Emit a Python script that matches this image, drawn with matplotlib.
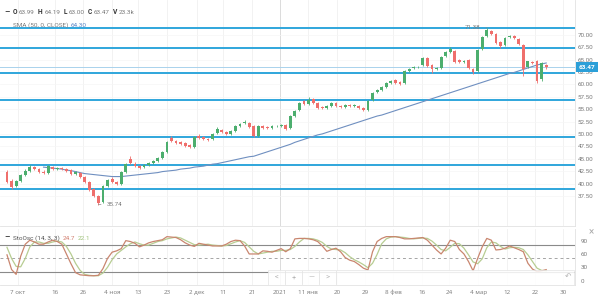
import matplotlib
matplotlib.use("Agg")
import matplotlib.pyplot as plt
from matplotlib.patches import Rectangle
import numpy as np

plt.rcParams['font.family'] = ['Roboto', 'DejaVu Sans']

# daily candles, trading-day index 0..118
opens = [42.4, 40.6, 39.5, 40.5, 41.8, 42.6, 43.3, 42.9, 42.4, 42.2,
         43.3, 42.9, 43.2, 43.0, 42.8, 42.0, 42.2, 41.3, 40.3, 38.8,
         37.4, 36.3, 39.4, 40.9, 40.4, 39.9, 42.3, 45.0, 44.0, 43.5,
         43.3, 43.7, 44.2, 44.6, 45.2, 46.4, 49.1, 48.6, 48.3, 48.2,
         47.8, 47.4, 49.5, 49.3, 49.0, 48.9, 50.1, 50.7, 50.4, 49.9,
         50.6, 51.5, 52.1, 52.3, 51.5, 49.6, 51.6, 51.3, 51.2, 51.5,
         51.6, 51.8, 51.1, 53.6, 54.8, 56.6, 56.1, 57.0, 56.3, 55.4,
         55.3, 55.6, 56.2, 55.7, 55.5, 55.8, 55.6, 55.7, 55.3, 54.9,
         56.8, 58.4, 58.9, 59.5, 60.2, 60.8, 60.4, 60.3, 62.7, 63.2,
         63.4, 63.9, 65.3, 63.8, 63.0, 63.3, 65.7, 66.6, 66.8, 64.9,
         64.5, 64.9, 63.1, 62.6, 67.2, 69.8, 70.7, 70.2, 68.6, 67.9,
         69.5, 69.8, 69.2, 68.0, 63.5, 64.5, 64.6, 61.0, 63.99]
highs = [42.8, 40.9, 40.8, 42.0, 42.9, 43.7, 43.6, 43.1, 42.7, 43.8,
         43.5, 43.4, 43.4, 43.2, 42.9, 42.5, 42.4, 41.5, 40.5, 39.0,
         37.6, 39.6, 41.0, 41.4, 40.6, 42.5, 44.2, 45.6, 44.3, 43.7,
         43.9, 44.4, 44.8, 45.4, 46.5, 48.6, 49.6, 48.8, 48.5, 48.4,
         48.0, 49.5, 49.9, 49.5, 49.2, 50.2, 51.3, 50.9, 50.6, 50.8,
         51.7, 52.2, 52.9, 52.5, 51.7, 51.7, 51.8, 51.5, 51.7, 51.8,
         52.0, 52.0, 53.8, 54.8, 56.4, 56.8, 57.5, 57.2, 56.5, 55.6,
         55.8, 56.5, 56.4, 55.9, 56.0, 56.0, 56.0, 55.9, 55.5, 56.8,
         58.5, 59.1, 59.7, 60.4, 60.8, 61.0, 60.6, 62.8, 63.3, 63.6,
         63.7, 65.6, 65.5, 64.0, 63.5, 65.8, 66.7, 67.6, 67.0, 65.1,
         65.0, 65.1, 63.3, 67.2, 69.8, 71.38, 70.9, 70.4, 68.8, 69.6,
         70.0, 70.0, 69.4, 68.2, 64.8, 64.8, 64.9, 64.5, 64.19]
lows = [40.2, 38.9, 39.3, 40.3, 41.6, 42.4, 42.7, 42.1, 42.0, 42.0,
        42.8, 42.7, 42.7, 42.4, 41.7, 41.8, 41.1, 40.2, 38.4, 37.3,
        35.74, 36.1, 39.2, 40.1, 39.6, 39.7, 42.1, 43.9, 43.3, 43.0,
        43.1, 43.5, 44.0, 44.4, 45.0, 46.2, 48.4, 48.0, 47.8, 47.4,
        47.1, 47.2, 49.0, 48.7, 48.6, 48.7, 49.9, 50.1, 49.7, 49.7,
        50.4, 51.3, 51.9, 51.2, 49.3, 49.4, 50.9, 51.0, 51.0, 51.3,
        51.4, 50.8, 50.9, 53.4, 54.6, 55.8, 55.9, 56.0, 55.0, 55.0,
        55.1, 55.4, 55.4, 55.3, 55.3, 55.4, 55.4, 55.1, 54.7, 54.7,
        56.6, 58.2, 58.7, 59.3, 60.0, 60.1, 59.8, 60.1, 62.5, 63.0,
        63.2, 63.7, 63.5, 62.3, 62.8, 63.1, 65.5, 66.4, 64.2, 64.3,
        64.3, 63.1, 62.1, 62.4, 67.0, 69.6, 69.9, 68.2, 67.3, 67.7,
        69.3, 69.1, 68.0, 61.6, 63.3, 64.0, 60.3, 60.6, 63.00]
closes = [40.4, 39.3, 40.5, 41.8, 42.6, 43.4, 42.9, 42.3, 42.2, 43.5,
          43.0, 43.2, 42.9, 42.6, 41.9, 42.3, 41.3, 40.4, 38.7, 37.5,
          36.0, 39.4, 40.8, 40.3, 39.8, 42.3, 43.9, 44.1, 43.5, 43.2,
          43.7, 44.2, 44.6, 45.2, 46.3, 48.4, 48.6, 48.2, 48.0, 47.6,
          47.3, 49.3, 49.2, 48.9, 48.8, 50.0, 51.0, 50.3, 49.9, 50.6,
          51.5, 52.0, 52.5, 51.4, 49.6, 51.5, 51.1, 51.2, 51.5, 51.6,
          51.7, 51.0, 53.6, 54.6, 56.2, 56.0, 56.9, 56.2, 55.2, 55.2,
          55.6, 56.3, 55.6, 55.5, 55.8, 55.6, 55.8, 55.3, 54.9, 56.6,
          58.3, 58.9, 59.5, 60.2, 60.6, 60.3, 60.0, 62.6, 63.1, 63.4,
          63.5, 65.3, 63.7, 63.0, 63.3, 65.6, 66.5, 67.2, 64.4, 64.5,
          64.8, 63.3, 62.4, 67.0, 69.6, 71.0, 70.1, 68.4, 67.8, 69.4,
          69.8, 69.3, 68.2, 63.0, 64.6, 64.2, 60.7, 64.3, 63.47]

# SMA(50) from index 8
sma_start = 8
sma = [43.3, 43.2, 43.1, 43.0, 42.9, 42.7, 42.6, 42.4, 42.2, 42.0,
       41.9, 41.8, 41.7, 41.6, 41.5, 41.4, 41.4, 41.4, 41.5, 41.6,
       41.7, 41.8, 41.9, 42.0, 42.1, 42.2, 42.4, 42.5, 42.6, 42.7,
       42.9, 43.0, 43.1, 43.3, 43.4, 43.5, 43.7, 43.9, 44.0, 44.2,
       44.4, 44.6, 44.8, 45.0, 45.2, 45.4, 45.5, 45.8, 46.1, 46.4,
       46.7, 47.0, 47.3, 47.6, 47.9, 48.3, 48.6, 48.9, 49.2, 49.5,
       49.8, 50.0, 50.3, 50.6, 50.9, 51.2, 51.5, 51.8, 52.1, 52.4,
       52.7, 53.0, 53.3, 53.6, 53.8, 54.1, 54.4, 54.7, 55.0, 55.3,
       55.6, 55.9, 56.2, 56.5, 56.8, 57.1, 57.4, 57.7, 58.0, 58.3,
       58.6, 58.9, 59.2, 59.5, 59.8, 60.1, 60.4, 60.7, 61.0, 61.3,
       61.6, 61.9, 62.2, 62.4, 62.7, 63.0, 63.3, 63.6, 63.9, 64.1,
       64.3]

# Stochastic (14,3,3)
stoch_k = [58, 25, 14, 55, 82, 91, 87, 82, 82, 87,
           91, 88, 82, 60, 38, 18, 13, 12, 11, 11,
           12, 27, 50, 64, 67, 72, 90, 88, 84, 76,
           80, 85, 88, 90, 92, 99, 98, 97, 92, 85,
           80, 77, 84, 82, 80, 78, 78, 78, 82, 88,
           91, 90, 78, 60, 60, 60, 67, 66, 64, 68,
           72, 65, 72, 94, 95, 95, 94, 92, 88, 78,
           66, 70, 73, 65, 52, 46, 43, 36, 28, 24,
           65, 88, 95, 99, 99, 99, 97, 94, 94, 95,
           96, 97, 91, 80, 69, 60, 73, 91, 88, 70,
           60, 43, 22, 50, 76, 95, 91, 69, 70, 73,
           78, 74, 70, 65, 39, 26, 20, 22, 24.7]
stoch_d = [75, 50, 32, 31, 50, 76, 87, 87, 84, 84,
           87, 89, 87, 77, 60, 39, 23, 14, 12, 11,
           11, 17, 30, 47, 60, 68, 76, 83, 87, 83,
           80, 80, 84, 88, 90, 94, 96, 98, 96, 91,
           86, 81, 80, 81, 82, 80, 79, 78, 79, 83,
           87, 90, 86, 76, 66, 60, 62, 64, 66, 66,
           68, 68, 70, 77, 87, 95, 95, 94, 91, 86,
           77, 71, 70, 69, 63, 54, 47, 42, 36, 29,
           39, 59, 83, 94, 98, 99, 98, 97, 95, 94,
           95, 96, 95, 89, 80, 70, 67, 75, 84, 83,
           73, 58, 42, 38, 49, 74, 87, 85, 77, 71,
           74, 75, 74, 70, 58, 43, 28, 23, 22.1]

levels = [71.27, 67.37, 62.22, 56.77, 49.3, 43.64, 38.9]
last_price = 63.47

price_ticks = [37.5, 40.0, 42.5, 45.0, 47.5, 50.0, 52.5, 55.0, 57.5, 60.0, 62.5, 65.0, 67.5, 70.0]
osc_ticks = [0, 30, 60, 90]
date_pos = [2.4, 10.5, 16.6, 23, 28.7, 35, 41.6, 47.3, 53.6, 59.7,
            65.9, 72.2, 78.3, 84.5, 90.8, 96.7, 103.1, 109.4, 115.5, 121.7]
date_labels = ['7 окт', '16', '26', '4 ноя', '13', '23', '2 дек', '11', '21', '2021',
               '11 янв', '20', '29', '8 фев', '16', '24', '4 мар', '12', '22', '30']

UP = '#4cae6e'
DOWN = '#ef6f6c'
LINE_BLUE = '#2fa6dc'
GRID = '#f0f0f0'
TXT = '#7a7a7a'

o = np.array(opens); h = np.array(highs); l = np.array(lows); c = np.array(closes)
x = np.arange(len(o))
cols = np.where(c >= o, UP, DOWN)

fig = plt.figure(figsize=(6, 3.03), dpi=100)
ax = fig.add_axes([0, 0.2541, 0.9583, 0.7459])
ax2 = fig.add_axes([0, 0.0594, 0.9583, 0.1848], sharex=ax)

for a in (ax, ax2):
    for p in date_pos:
        a.axvline(p, color=GRID, lw=0.6, zorder=0)
    a.axvline(date_pos[9], color='#dcdcdc', lw=0.7, zorder=0)
    for s in ['top', 'left']:
        a.spines[s].set_visible(False)
    for s in ['right', 'bottom']:
        a.spines[s].set_color('#e2e2e2')
        a.spines[s].set_linewidth(0.6)

for p in price_ticks:
    ax.axhline(p, color='#f5f5f5', lw=0.5, zorder=0)

# support / resistance levels
for lv in levels:
    ax.axhline(lv, color=LINE_BLUE, lw=1.4, zorder=1)
ax.axhline(last_price, color='#a9d2ec', lw=0.7, zorder=1)

# candles
ax.vlines(x, l, h, colors=cols, lw=0.6, zorder=3)
ax.bar(x, np.maximum(np.abs(c - o), 0.06), bottom=np.minimum(o, c), width=0.62,
       color=cols, zorder=4)

# SMA
ax.plot(np.arange(sma_start, sma_start + len(sma)), sma, color='#6f8fc0', lw=0.8, zorder=2)

ax.annotate('71.38', xy=(105, 71.38), xytext=(103.6, 71.38), ha='right', va='center',
            fontsize=4.5, color=TXT,
            arrowprops=dict(arrowstyle='-', color='#888888', lw=0.5))
ax.annotate('35.74', xy=(20, 35.74), xytext=(21.8, 35.74), ha='left', va='center',
            fontsize=4.5, color=TXT,
            arrowprops=dict(arrowstyle='-', color='#888888', lw=0.5))

ax.set_xlim(-1.53, 124.3)
ax.set_ylim(31.43, 77.0)
ax.yaxis.tick_right()
ax.set_yticks(price_ticks)
ax.set_yticklabels([f'{p:.2f}' for p in price_ticks])
ax.tick_params(axis='y', length=0, pad=2, labelsize=4.5, colors=TXT)
ax.tick_params(axis='x', length=0, labelbottom=False)

# stochastic panel
ax2.axhline(80, color='#8a8a8a', lw=0.8, zorder=1)
ax2.axhline(20, color='#8a8a8a', lw=0.8, zorder=1)
ax2.axhline(50, color='#a5a5a5', lw=0.7, ls=(0, (3, 3)), zorder=1)
ax2.plot(x, stoch_d, color='#b7cd92', lw=0.9, zorder=2)
ax2.plot(x, stoch_k, color='#c9866f', lw=0.9, zorder=3)
ax2.set_ylim(-9.9, 116.2)
ax2.yaxis.tick_right()
ax2.set_yticks(osc_ticks)
ax2.tick_params(axis='y', length=0, pad=4, labelsize=4.5, colors=TXT)
ax2.set_xticks(date_pos)
ax2.set_xticklabels(date_labels, family=['Open Sans', 'DejaVu Sans'])
ax2.tick_params(axis='x', length=0, pad=6.3, labelsize=4.5, colors=TXT)
for lbl in ax2.get_xticklabels():
    lbl.set_verticalalignment('baseline')

W, H = 600.0, 303.0
renderer = fig.canvas.get_renderer()

def row(px, py, pieces):
    # lay out text pieces one after another
    cur = px
    for s, kw, gap in pieces:
        t = fig.text(cur / W, 1 - py / H, s, va='baseline', ha='left', **kw)
        bb = t.get_window_extent(renderer=renderer)
        cur += bb.width + gap

B = dict(fontsize=4.8, color='#333333', fontweight='bold')
N = dict(fontsize=4.6, color=TXT)
row(4, 14, [('–', dict(fontsize=6, color='#333333', fontweight='bold'), 4)])
row(13, 14, [('O', B, 1.6), ('63.99', N, 3.2), ('H', B, 1.6), ('64.19', N, 3.2),
             ('L', B, 1.6), ('63.00', N, 3.2), ('C', B, 1.6), ('63.47', N, 3.2),
             ('V', B, 1.6), ('23.3k', N, 0)])
row(13, 27, [('SMA (50, 0, CLOSE)', N, 2.5), ('64.30', dict(fontsize=4.6, color='#5b86c6'), 0)])

row(4, 239.5, [('–', dict(fontsize=6, color='#333333', fontweight='bold'), 0)])
row(13, 239.5, [('StoOsc (14, 3, 3)', dict(fontsize=4.6, color='#555555'), 2.5),
                ('24.7', dict(fontsize=4.6, color='#d27f6f'), 2.5),
                ('22.1', dict(fontsize=4.6, color='#9fc27a'), 0)])

# last price tag
fig.text(587 / W, 1 - 67.1 / H, '63.47', ha='center', va='center', fontsize=4.6,
         color='white', fontweight='bold',
         bbox=dict(boxstyle='square,pad=0.35', fc='#2b9fd8', ec='none'))

# navigation bar overlay
fig.patches.append(Rectangle((268 / W, 1 - 285 / H), 306 / W, 15 / H, transform=fig.transFigure,
                             fc='white', ec='#e4e4e4', lw=0.6, alpha=0.85, zorder=5))
for px in [285, 302, 319, 336]:
    fig.lines.append(plt.Line2D([px / W, px / W], [1 - 284 / H, 1 - 271 / H],
                                transform=fig.transFigure, color='#e4e4e4', lw=0.6, zorder=6))
for px, s in [(277, '<'), (293.5, '+'), (311, '—'), (327.5, '>')]:
    fig.text(px / W, 1 - 277.5 / H, s, ha='center', va='center', fontsize=5.5,
             color='#b5b5b5', zorder=7)
fig.text(568 / W, 1 - 276 / H, '↶', ha='center', va='center', fontsize=5.5,
         color='#b5b5b5', zorder=7, family=['DejaVu Sans'])
fig.text(591 / W, 1 - 232 / H, '×', ha='center', va='center', fontsize=7,
         color='#aaaaaa', zorder=7)

fig.savefig('out.png', dpi=100, facecolor='white')
